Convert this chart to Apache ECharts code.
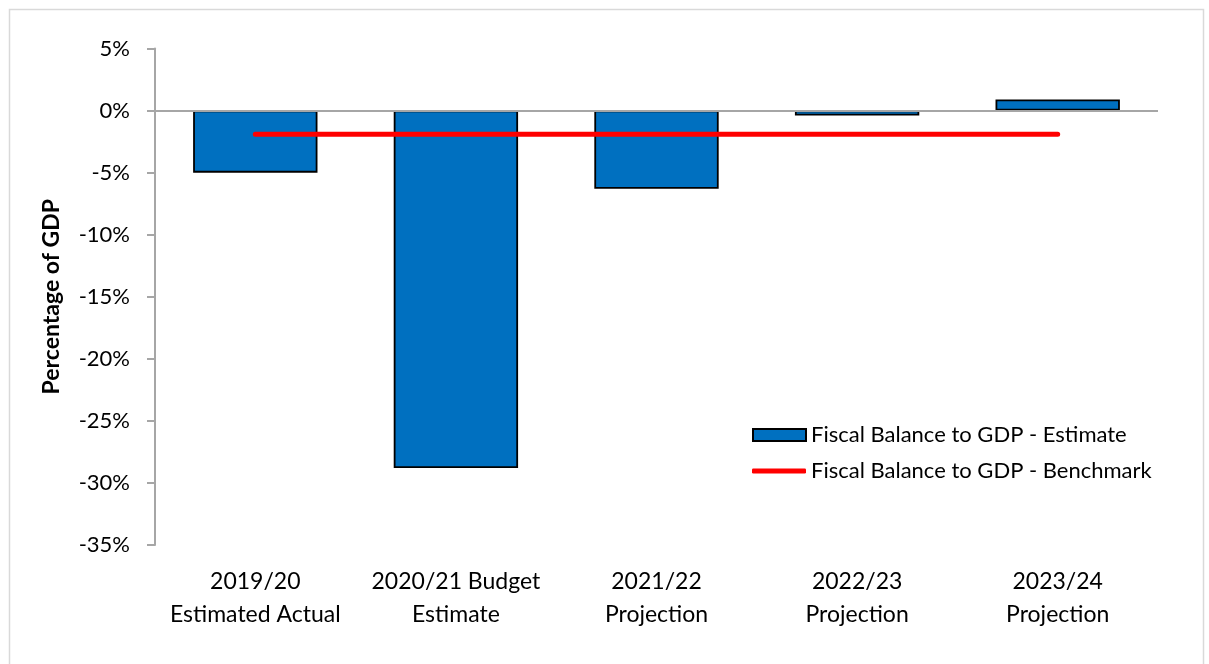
<!DOCTYPE html>
<html>
<head>
<meta charset="utf-8">
<script src="https://cdn.jsdelivr.net/npm/echarts@6/dist/echarts.min.js"></script>
<style>
  html, body { margin: 0; padding: 0; background: #fff; }
  #chart { width: 1209px; height: 664px; }
</style>
</head>
<body>
<div id="chart"></div>
<script>
// Fiscal balance as a share of GDP, by fiscal year
const categories = [
  '2019/20\nEstimated Actual',
  '2020/21 Budget\nEstimate',
  '2021/22\nProjection',
  '2022/23\nProjection',
  '2023/24\nProjection'
];
const estimateValues = [-5.0, -28.8, -6.3, -0.4, 0.9];
const benchmarkValues = [-1.9, -1.9, -1.9, -1.9, -1.9];
const estimateName = 'Fiscal Balance to GDP - Estimate';
const benchmarkName = 'Fiscal Balance to GDP - Benchmark';
const yAxisTitle = 'Percentage of GDP';

const FONT = 'Lato, "Open Sans", sans-serif';
const chart = echarts.init(document.getElementById('chart'), null, { renderer: 'canvas' });

chart.setOption({
  animation: false,
  backgroundColor: '#ffffff',
  textStyle: { fontFamily: FONT },
  graphic: [{
    type: 'rect',
    left: 7, top: 7,
    shape: { width: 1194, height: 656 },
    style: { fill: 'none', stroke: '#D9D9D9', lineWidth: 1.5 },
    silent: true
  }],
  grid: { left: 155, right: 51, top: 48.5, bottom: 119, containLabel: false },
  legend: [
    {
      data: [{ name: estimateName, icon: 'rect' }],
      left: 747, top: 419,
      itemWidth: 53, itemHeight: 12, itemGap: 6,
      textStyle: { fontFamily: FONT, fontSize: 22, color: '#000' }
    },
    {
      data: [{ name: benchmarkName, icon: 'roundRect' }],
      left: 747, top: 455,
      itemWidth: 54, itemHeight: 5, itemGap: 5,
      textStyle: { fontFamily: FONT, fontSize: 22, color: '#000' }
    }
  ],
  xAxis: {
    type: 'category',
    data: categories,
    axisLine: { show: false, onZero: false },
    axisTick: { show: false },
    axisLabel: {
      interval: 0, margin: 20,
      fontFamily: FONT, fontSize: 23, color: '#000', lineHeight: 33
    }
  },
  yAxis: {
    type: 'value',
    min: -35, max: 5, interval: 5,
    name: yAxisTitle,
    nameLocation: 'middle',
    nameGap: 92,
    nameTextStyle: { fontFamily: FONT, fontSize: 23, fontWeight: 'bold', color: '#000' },
    splitLine: { show: false },
    axisLine: { show: true, lineStyle: { color: '#A6A6A6', width: 2 } },
    axisTick: { show: true, inside: false, length: 8, lineStyle: { color: '#A6A6A6', width: 2 } },
    axisLabel: {
      margin: 25,
      fontFamily: FONT, fontSize: 22, color: '#000',
      formatter: v => v + '%'
    }
  },
  series: [
    {
      name: estimateName,
      type: 'bar',
      data: estimateValues,
      barWidth: '62%',
      itemStyle: { color: '#0070C0', borderColor: '#000', borderWidth: 1.8 },
      markLine: {
        silent: true,
        symbol: 'none',
        label: { show: false },
        lineStyle: { color: '#A6A6A6', width: 2, type: 'solid' },
        data: [{ yAxis: 0 }],
        z: 3
      }
    },
    {
      name: benchmarkName,
      type: 'line',
      data: benchmarkValues,
      showSymbol: false,
      symbol: 'none',
      lineStyle: { color: '#FF0000', width: 5, cap: 'round' },
      itemStyle: { color: '#FF0000' },
      z: 5
    }
  ]
});
</script>
</body>
</html>
